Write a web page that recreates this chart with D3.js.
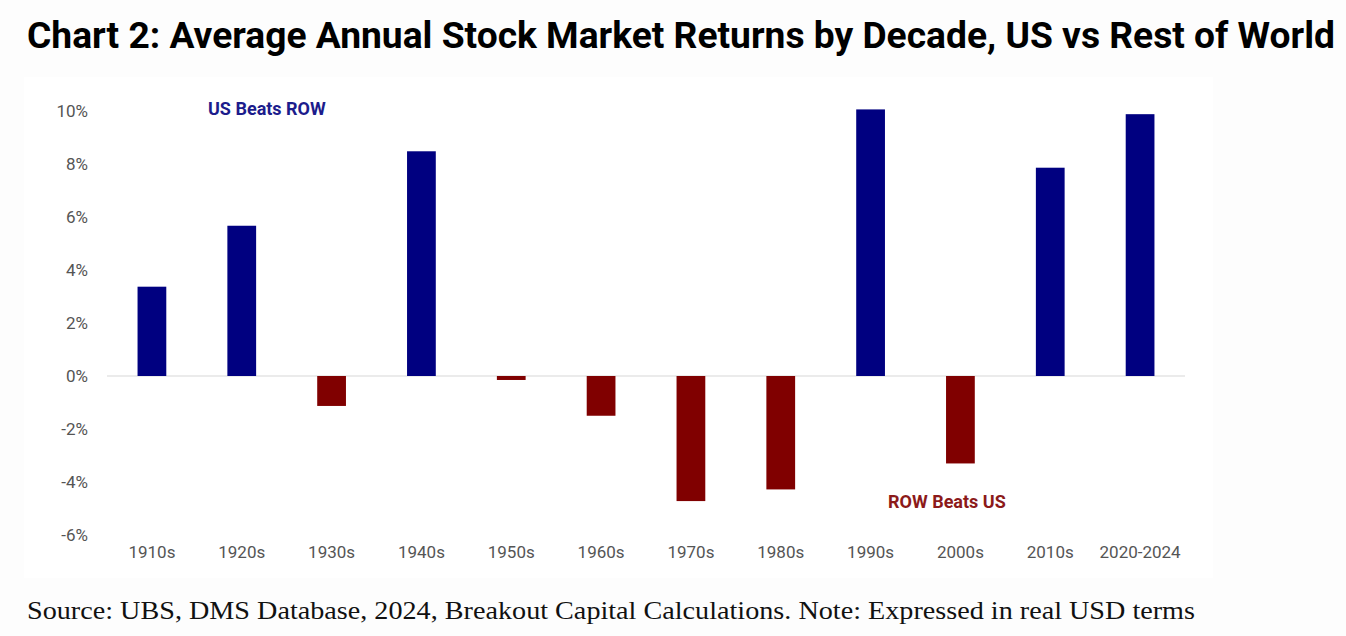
<!doctype html>
<html lang="en">
  <head>
    <meta charset="UTF-8" />
    <title>Chart 2: Average Annual Stock Market Returns by Decade</title>
    <script src="https://unpkg.com/d3@7.9.0/dist/d3.min.js"></script>
    <style>
      body {
        margin: 0;
        background: #fdfdfd;
        overflow: hidden;
      }
      .title {
        font-family: Roboto, sans-serif;
        font-weight: 700;
        font-size: 37px;
        fill: #000;
      }
      .source {
        font-family: 'Liberation Serif', serif;
        font-size: 26px;
        fill: #111;
      }
      .tick text {
        font-family: Roboto, sans-serif;
        font-size: 17px;
        fill: #555;
      }
      .note {
        font-family: Roboto, sans-serif;
        font-weight: 700;
        font-size: 18px;
      }
    </style>
  </head>
  <body>
    <svg width="1346" height="636"></svg>

    <script>
      // data (percent)
      const decades = [
        '1910s', '1920s', '1930s', '1940s', '1950s', '1960s',
        '1970s', '1980s', '1990s', '2000s', '2010s', '2020-2024',
      ];
      const usMinusRow = [
        3.37, 5.67, -1.13, 8.48, -0.15, -1.5,
        -4.72, -4.28, 10.06, -3.3, 7.86, 9.88,
      ];
      const yTicks = [-6, -4, -2, 0, 2, 4, 6, 8, 10];

      const titleText =
        'Chart 2: Average Annual Stock Market Returns by Decade, US vs Rest of World';
      const sourceText =
        'Source: UBS, DMS Database, 2024, Breakout Capital Calculations. Note: Expressed in real USD terms';

      const data = decades.map((d, i) => ({ decade: d, value: usMinusRow[i] }));

      const svg = d3.select('svg');

      // white panel behind the chart image
      svg
        .append('rect')
        .attr('x', 24)
        .attr('y', 77)
        .attr('width', 1189)
        .attr('height', 501)
        .attr('fill', '#ffffff');

      svg
        .append('text')
        .attr('class', 'title')
        .attr('x', 27)
        .attr('y', 48)
        .attr('textLength', 1308)
        .attr('lengthAdjust', 'spacingAndGlyphs')
        .text(titleText);

      const x = d3
        .scaleBand()
        .domain(decades)
        .range([107, 1185])
        .paddingInner(0.68)
        .paddingOuter(0.34);

      const y = d3.scaleLinear().domain([-6, 10]).range([535, 111]);

      // y axis labels, no line
      const yAxis = svg
        .append('g')
        .attr('transform', 'translate(88,0)')
        .call(
          d3
            .axisLeft(y)
            .tickValues(yTicks)
            .tickSize(0)
            .tickPadding(0)
            .tickFormat((d) => d + '%'),
        );
      yAxis.select('.domain').remove();
      yAxis.selectAll('text').attr('dy', '0.35em');

      // x axis labels
      const xAxis = svg
        .append('g')
        .attr('transform', 'translate(0,546)')
        .call(d3.axisBottom(x).tickSize(0).tickPadding(0));
      xAxis.select('.domain').remove();

      // zero line
      svg
        .append('line')
        .attr('x1', 107)
        .attr('x2', 1185)
        .attr('y1', y(0))
        .attr('y2', y(0))
        .attr('stroke', '#ebebeb')
        .attr('stroke-width', 2);

      svg
        .selectAll('.bar')
        .data(data)
        .enter()
        .append('rect')
        .attr('class', 'bar')
        .attr('x', (d) => x(d.decade))
        .attr('width', x.bandwidth())
        .attr('y', (d) => y(Math.max(0, d.value)))
        .attr('height', (d) => Math.abs(y(d.value) - y(0)))
        .attr('fill', (d) => (d.value >= 0 ? '#000080' : '#800000'));

      svg
        .append('text')
        .attr('class', 'note')
        .attr('x', 208)
        .attr('y', 115)
        .attr('fill', '#1c1c8c')
        .text('US Beats ROW');

      svg
        .append('text')
        .attr('class', 'note')
        .attr('x', 888)
        .attr('y', 508)
        .attr('fill', '#8c1a1a')
        .text('ROW Beats US');

      svg
        .append('text')
        .attr('class', 'source')
        .attr('x', 27)
        .attr('y', 619)
        .attr('textLength', 1168)
        .attr('lengthAdjust', 'spacingAndGlyphs')
        .text(sourceText);
    </script>
  </body>
</html>
